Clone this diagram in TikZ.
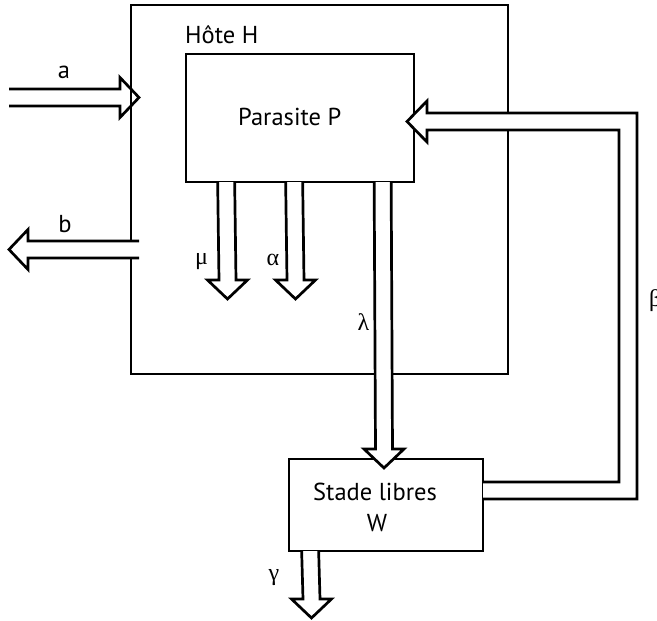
\documentclass[tikz,border=0pt]{standalone}
\usepackage{fontspec}
\setmainfont{PT Sans}
\newfontfamily\grkfont{Liberation Serif}
\usetikzlibrary{calc}
\tikzset{
  box/.style={draw, line width=2.7pt, line join=miter, rectangle, inner sep=0pt},
  blk/.style={draw, line width=2.7pt, line join=miter, fill=white},
  lbl/.style={inner sep=0pt, font=\fontsize{24.5}{28}\selectfont},
  grk/.style={inner sep=0pt, font=\grkfont\fontsize{24}{28}\selectfont}
}
\begin{document}
\begin{tikzpicture}[x=1pt,y=-1pt]
\useasboundingbox (0,0) rectangle (657,621);
\clip (0,0) rectangle (657,621);
% boxes
\node[box, minimum width=377pt, minimum height=369pt] (host) at (319.5,189.5) {};
\node[box, minimum width=228pt, minimum height=128pt] (par) at (300,118) {};
\node[box, minimum width=194pt, minimum height=92pt] (free) at (386,505) {};
% texts
\node[lbl, anchor=base west] (hostlbl) at (185,43) {Hôte H};
\node[lbl, anchor=base west] (parlbl) at (238,125) {Parasite P};
\node[lbl, anchor=base west] (freelbl) at (313,500) {Stade libres};
\node[lbl, anchor=base] (wlbl) at (377,531) {W};
% arrow a (into host)
\coordinate (atip) at (139,97.5);
\draw[blk, fill=none] (9,89) -- (120,89) -- (120,77.5) -- (atip) -- (120,117.5) -- (120,106) -- (9,106);
\node[lbl] (alab) at (64,72) {a};
% arrow b (out of host)
\coordinate (btip) at (9,249.5);
\draw[blk] (139,241) -- (28,241) -- (28,229.5) -- (btip) -- (28,269.5) -- (28,258) -- (139,258);
\node[lbl] (blab) at (65,224) {b};
% arrow mu
\draw[blk] ($(par.south west)+(33,-1.35)$) -- (219,280) -- (207.5,280) -- (227.5,299) -- (247.5,280) -- (236,280) -- ($(par.south west)+(50,-1.35)$);
\node[grk] (mulab) at (201.5,262) {μ};
% arrow alpha
\draw[blk] ($(par.south west)+(101,-1.35)$) -- (287,280) -- (275.5,280) -- (295.5,299) -- (315.5,280) -- (304,280) -- ($(par.south west)+(118,-1.35)$);
\node[grk] (alphalab) at (273,259.5) {α};
% arrow lambda (parasite -> free stage)
\draw[blk] ($(par.south west)+(189.5,-1.35)$) -- (375.5,449) -- (364,449) -- (384,468) -- (404,449) -- (392.5,449) -- ($(par.south west)+(206.5,-1.35)$);
\node[grk] (lambdalab) at (363.5,322) {λ};
% arrow gamma
\draw[blk] ($(free.south west)+(14,-1.35)$) -- (303,599) -- (291.5,599) -- (311.5,618) -- (331.5,599) -- (320,599) -- ($(free.south west)+(31,-1.35)$);
\node[grk] (gammalab) at (274,578) {γ};
% arrow beta (free stage -> parasite)
\draw[blk] ($(free.east |- 0,482)+(-1.35,0)$) -- (619,482) -- (619,130) -- (427,130) -- (427,142) -- (407,121.5) -- (427,101) -- (427,113) -- (637,113) -- (637,499) -- ($(free.east |- 0,499)+(-1.35,0)$);
\node[grk, anchor=west] (betalab) at (649,301) {β};
\end{tikzpicture}
\end{document}
